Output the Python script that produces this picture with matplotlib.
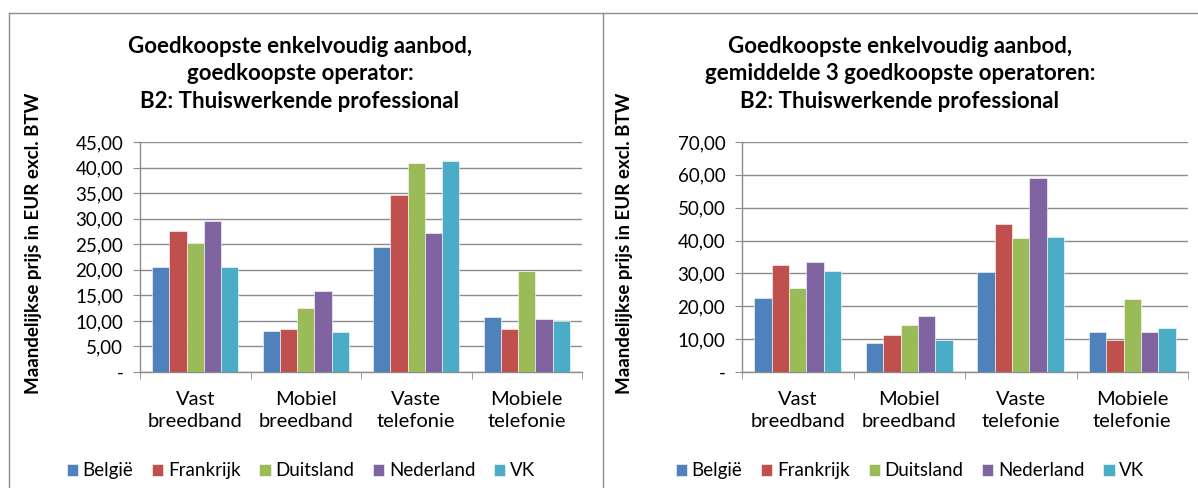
import matplotlib.pyplot as plt
import numpy as np
from matplotlib.lines import Line2D
from matplotlib.ticker import FuncFormatter, MultipleLocator

plt.rcParams['font.family'] = ['Lato', 'DejaVu Sans']

categories = ["Vast\nbreedband", "Mobiel\nbreedband", "Vaste\ntelefonie", "Mobiele\ntelefonie"]
countries = ["België", "Frankrijk", "Duitsland", "Nederland", "VK"]
colors = ["#4F81BD", "#C0504D", "#9BBB59", "#8064A2", "#4BACC6"]

# goedkoopste operator
cheapest_be = [20.6, 8.0, 24.5, 10.8]
cheapest_fr = [27.5, 8.4, 34.6, 8.4]
cheapest_de = [25.2, 12.5, 40.8, 19.8]
cheapest_nl = [29.5, 15.9, 27.2, 10.4]
cheapest_uk = [20.5, 7.8, 41.2, 10.0]

# gemiddelde 3 goedkoopste operatoren
avg3_be = [22.5, 8.8, 30.4, 12.3]
avg3_fr = [32.7, 11.2, 45.0, 9.6]
avg3_de = [25.7, 14.2, 40.7, 22.1]
avg3_nl = [33.5, 17.0, 59.0, 12.1]
avg3_uk = [30.8, 9.7, 41.2, 13.5]

title_left = "Goedkoopste enkelvoudig aanbod,\ngoedkoopste operator:\nB2: Thuiswerkende professional"
title_right = "Goedkoopste enkelvoudig aanbod,\ngemiddelde 3 goedkoopste operatoren:\nB2: Thuiswerkende professional"
ylabel = "Maandelijkse prijs in EUR excl. BTW"

W, H = 1198, 488
fig = plt.figure(figsize=(W / 100, H / 100), dpi=100)


def px_axes(x0, y0, x1, y1):
    # pixel box (top-left origin) -> figure axes
    return fig.add_axes([x0 / W, 1 - y1 / H, (x1 - x0) / W, (y1 - y0) / H])


def fmt(v, pos):
    if abs(v) < 1e-9:
        return "-"
    return f"{v:.2f}".replace(".", ",")


def draw_panel(ax, series, ymax, step, leg_x):
    x = np.arange(len(categories))
    bw = 0.156
    for i, (vals, c, name) in enumerate(zip(series, colors, countries)):
        ax.bar(x + (i - 2) * bw, vals, bw, color=c, label=name, zorder=3,
               edgecolor="white", linewidth=0.4)
    ax.set_xlim(-0.5, len(categories) - 0.5)
    ax.set_ylim(0, ymax)
    ax.yaxis.set_major_locator(MultipleLocator(step))
    ax.yaxis.set_major_formatter(FuncFormatter(fmt))
    ax.grid(axis="y", color="#8c8c8c", linewidth=1.0, zorder=0)
    ax.set_xticks(x)
    ax.set_xticklabels(categories, fontsize=14.5, linespacing=1.35)
    ax.set_xticks(np.arange(len(categories) + 1) - 0.5, minor=True)
    ax.tick_params(axis="x", which="major", length=0, pad=14)
    ax.tick_params(axis="x", which="minor", length=5, color="#8c8c8c")
    ax.tick_params(axis="y", length=5, color="#8c8c8c", labelsize=13.5, pad=7)
    for s in ["top", "right"]:
        ax.spines[s].set_visible(False)
    for s in ["left", "bottom"]:
        ax.spines[s].set_color("#8c8c8c")
        ax.spines[s].set_linewidth(1.0)
    ax.set_ylabel(ylabel, fontsize=13.5, fontweight="bold")
    ax.legend(loc="upper center", bbox_to_anchor=(leg_x, -0.36), ncol=5,
              frameon=False, fontsize=13.5, handlelength=0.6, handleheight=0.6,
              handletextpad=0.25, columnspacing=1.0, borderaxespad=0)


ax1 = px_axes(140, 142, 582, 372)
draw_panel(ax1, [cheapest_be, cheapest_fr, cheapest_de, cheapest_nl, cheapest_uk], 45, 5, 0.364)
fig.text(300 / W, 1 - 74 / H, title_left, ha="center", va="center",
         fontsize=16, fontweight="bold", linespacing=1.4)

ax2 = px_axes(742, 142, 1188, 372)
draw_panel(ax2, [avg3_be, avg3_fr, avg3_de, avg3_nl, avg3_uk], 70, 10, 0.377)
fig.text(900 / W, 1 - 74 / H, title_right, ha="center", va="center",
         fontsize=16, fontweight="bold", linespacing=1.4)

ax1.yaxis.set_label_coords(-0.222, 0.56)
ax2.yaxis.set_label_coords(-0.245, 0.56)

# panel borders
border = "#8c8c8c"
fig.add_artist(Line2D([9 / W, 1], [1 - 13 / H] * 2, color=border, lw=1))
fig.add_artist(Line2D([9 / W] * 2, [0, 1 - 13 / H], color=border, lw=1))
fig.add_artist(Line2D([603 / W] * 2, [0, 1 - 13 / H], color=border, lw=1))

fig.savefig("out.png", dpi=100)
